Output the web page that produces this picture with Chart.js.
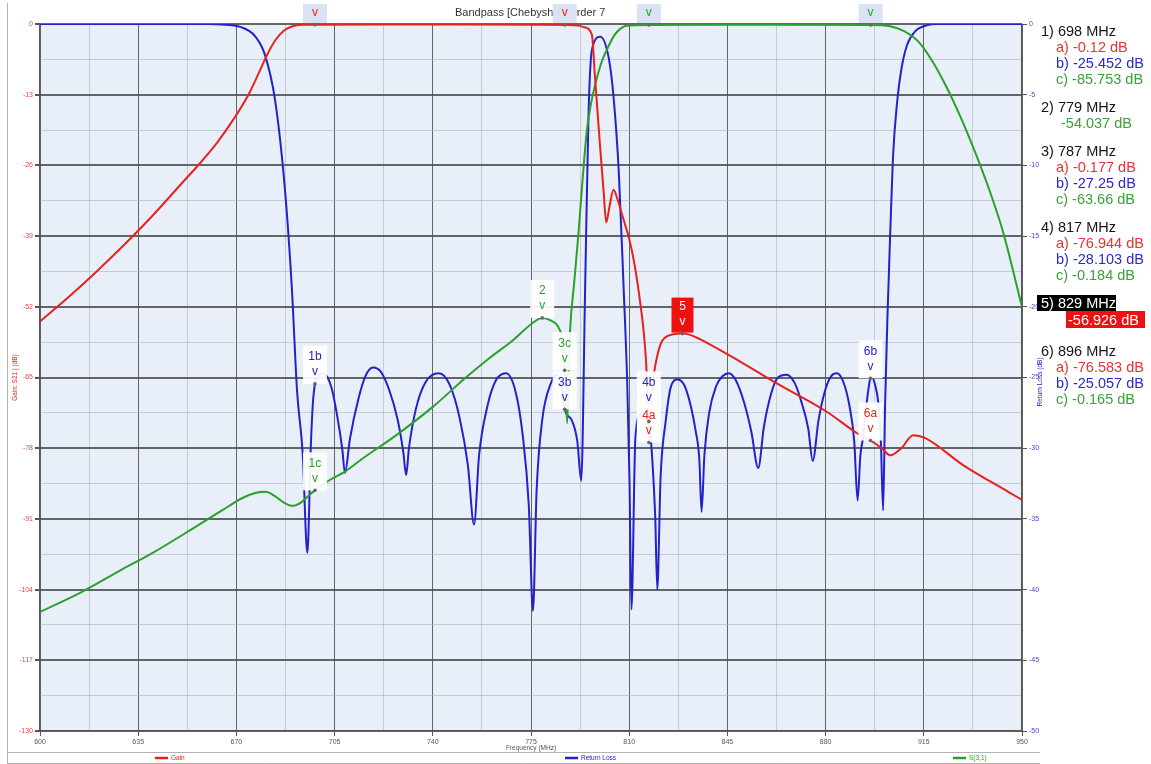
<!DOCTYPE html>
<html>
<head>
<meta charset="utf-8">
<title>Bandpass [Chebyshev Order 7</title>
<script src="https://cdn.jsdelivr.net/npm/chart.js@4.4.0/dist/chart.umd.min.js"></script>
<style>
    body { margin: 0; background: #fff; }
    #wrap { position: relative; width: 1151px; height: 764px; overflow: hidden; }
    #plot { position: absolute; left: 0; top: 0; }
    #readout {
        position: absolute; left: 1041px; top: 23px;
        font-family: 'Liberation Sans', Arial, sans-serif; font-size: 14.5px; line-height: 16px;
        color: #151515; white-space: nowrap;
    }
    .blk { margin-bottom: 12px; }
    .blk.act { margin-bottom: 15px; }
    .val { padding-left: 15px; }
    .val.solo { padding-left: 20px; }
    .hd.act { display: inline-block; background: #000; color: #fff; padding: 0 0 0 4px; margin-left: -4px; }
    .val.solo.act { display: inline-block; background: #f01010; color: #fff !important; padding: 1px 6px 0 2px; margin-left: 25px; }
</style>
</head>
<body>
<div id="wrap">
    <canvas id="plot" width="1151" height="764"></canvas>
    <div id="readout"></div>
</div>
<script>
// Axis tick labels
const freqTicks = [600, 635, 670, 705, 740, 775, 810, 845, 880, 915, 950];
const gainTicks = [0, -13, -26, -39, -52, -65, -78, -91, -104, -117, -130];
const lossTicks = [0, -5, -10, -15, -20, -25, -30, -35, -40, -45, -50];

// Gain (S21) trace, left axis
const gainFreq = [600, 610, 620, 630, 640, 650, 657, 663, 669, 674, 678, 681, 684, 687, 690, 694, 698, 720, 750, 780, 787, 792, 794,
    796.7, 797.8, 799.6, 800.9, 801.8, 803, 804.4, 806, 808, 810, 812, 814, 815.5, 816.3, 817, 818, 818.8, 820, 821.7, 824, 827,
    829, 832, 835, 845.6, 862.6, 880.4, 891.1, 896, 900, 903, 907, 911.2, 915.4, 929, 945.7, 950];
const gainDb = [-54.7, -50.3, -45.6, -40.6, -35.3, -29.6, -25.6, -21.9, -17.5, -13.3, -9.0, -5.6, -2.9, -1.2, -0.4, -0.15, -0.12, -0.08, -0.08, -0.12, -0.177, -0.3, -0.6,
    -2.0, -9.7, -22.4, -30.9, -36.5, -33.5, -30.5, -32.5, -36, -39.5, -44.5, -51.5, -58.5, -65, -76.944, -68, -64.4, -61, -58.3, -57.3, -56.95,
    -56.926, -57.2, -57.9, -60.9, -66.1, -71.3, -75.2, -76.583, -78, -79.3, -78, -75.6, -76.1, -81.1, -86.2, -87.5];

// Return loss trace, right axis
const lossFreq = [600, 660, 666, 671.3, 676.6, 680.2, 683.8, 687.3, 689.8, 691.6, 693.6, 695.3, 696.5, 697.2, 698, 699.5, 701, 702.5, 704, 706, 707.7,
    708.7, 710.5, 713.5, 716, 718.7, 721.5, 724.5, 727.5, 729.5, 730.5, 731.5, 734, 737.5, 742.2, 746, 749.5, 752.5, 754.7,
    756.5, 759.5, 762.5, 766.1, 769.5, 772, 774.2, 775.7, 777, 779, 782.1, 784.3, 786, 787, 789.5, 791.5, 792.9,
    794.3, 795.5, 796.7, 799.7, 802.7, 804.4, 806.3, 808, 809.3, 810.1, 810.8, 812.2, 814, 815.5, 817, 818.3, 819.3, 820,
    821.2, 823, 824.8, 827.2, 830.2, 833.8, 835, 835.8, 836.8, 838.5, 841, 843.3, 845.6, 848, 851, 853.5, 856,
    858, 860.5, 863, 866.1, 869, 871.5, 873.8, 875.4, 877.5, 880, 882, 884, 886.3, 888.5, 890.2, 891.4,
    892.4, 893.4, 894.65, 896, 896.6, 897.6, 898.8, 899.7, 900.5, 901.2, 902, 903, 904, 905.5, 907, 909, 912, 916, 920, 950];
const lossDb = [0, 0, -0.05, -0.2, -0.85, -2.2, -5.4, -11.7, -18.8, -25.9, -30.3, -37.4, -30, -27, -25.452, -24.8, -24.7, -25.0, -25.8, -27.8, -30,
    -31.75, -29.3, -26.5, -24.9, -24.3, -24.6, -25.9, -28, -30.3, -31.9, -30, -27.2, -25.3, -24.7, -25.5, -27.8, -31.2, -35.4,
    -30.5, -27, -25.2, -24.7, -26, -29, -34, -41.5, -33, -28, -25.4, -24.8, -25.7, -27.25, -28, -29.5, -32.3,
    -18.6, -6.4, -1.85, -0.9, -2.4, -5.1, -10.5, -18.6, -25.4, -32.2, -41.4, -29.3, -27.6, -27.5, -28.103, -31, -35, -40.0,
    -32, -28.1, -25.7, -25.15, -25.8, -28.9, -30.8, -34.5, -30.5, -27.5, -25.6, -24.9, -24.7, -25.2, -26.8, -28.8, -31.4,
    -28.5, -26.2, -25.0, -24.8, -25.4, -26.8, -28.6, -30.9, -28, -25.8, -24.9, -24.7, -25.3, -27, -29.5, -33.7,
    -30.5, -29.2, -26.8, -25.057, -25.0, -25.5, -26.8, -29.5, -34.4, -27, -21, -15, -9.5, -5.5, -3.2, -1.5, -0.5, -0.1, 0, 0];

// S(3,1) trace, left axis
const s31Freq = [600, 615, 628.5, 640, 655, 665, 672, 677, 680.5, 684, 687, 690, 693, 696, 698, 703.4, 708.7, 715, 727, 740, 752, 760,
    768.7, 775, 779, 782, 785, 786.3, 787, 787.9, 788.4, 788.9, 790.4, 791.9, 793.4, 794.9, 796.4, 797.9, 800.3, 802.7, 804.8, 806.8,
    809, 817, 860, 896, 903, 908, 913, 918, 923, 928, 933, 938, 943, 950];
const s31Db = [-108.1, -104.4, -100.5, -97.3, -92.6, -89.4, -87.2, -86.2, -86.0, -86.9, -88.0, -88.6, -88.0, -86.6, -85.753, -83.8, -82.3, -79.9, -75.6, -70.4, -64.9, -61.5,
    -58.1, -55.2, -54.037, -54.5, -56, -58.5, -63.66, -73.4, -64, -56.6, -47.5, -38.6, -28.5, -19.6, -14.6, -11.1, -6.8, -4.0, -2.0, -0.9,
    -0.3, -0.184, -0.15, -0.165, -0.4, -1.3, -3.2, -6.8, -11.5, -17, -23.2, -30, -37.8, -52];

// Markers (readout values)
const markerFreq = [698, 779, 787, 817, 829, 896];
const markerGain = [-0.12, null, -0.177, -76.944, -56.926, -76.583];
const markerLoss = [-25.452, null, -27.25, -28.103, null, -25.057];
const markerS31 = [-85.753, -54.037, -63.66, -0.184, null, -0.165];
const activeMarker = 5;
const labelLift = { '4b': 12 };

const RED = '#e8211d';
const BLUE = '#2222cc';
const GREEN = '#2ba02b';

const traces = [
    { key: 'a', vals: markerGain, axis: 'y', color: RED, text: '#e83333' },
    { key: 'b', vals: markerLoss, axis: 'y2', color: BLUE, text: '#2a2acc' },
    { key: 'c', vals: markerS31, axis: 'y', color: GREEN, text: '#3aa23a' }
];

function toPoints(xs, ys) {
    return xs.map((x, i) => ({ x: x, y: ys[i] }));
}

// majors from the tick arrays plus a minor line half way between
function withMinor(arr) {
    const out = [];
    const s = arr.slice().sort((a, b) => a - b);
    for (let i = 0; i < s.length; i++) {
        out.push(s[i]);
        if (i < s.length - 1) out.push((s[i] + s[i + 1]) / 2);
    }
    return out;
}

function isMajorOf(list) {
    return ctx => ctx.tick && list.includes(ctx.tick.value);
}

function scaleOpts(list, labelColor, major) {
    return {
        afterBuildTicks: s => { s.ticks = withMinor(list).map(v => ({ value: v })); },
        ticks: {
            autoSkip: false,
            maxRotation: 0,
            padding: 2,
            color: labelColor,
            font: { family: 'Liberation Sans', size: 7 },
            callback: v => list.includes(v) ? String(v) : ''
        },
        border: { display: true, color: '#555', width: 1.2 },
        grid: {
            tickLength: 5,
            tickColor: ctx => major(ctx) ? '#555' : 'rgba(0,0,0,0)',
            color: ctx => major(ctx) ? 'rgba(75,75,75,0.85)' : 'rgba(165,172,185,0.55)',
            lineWidth: 1
        }
    };
}

// Plugin: backgrounds, title, marker flags, legend
const chrome = {
    id: 'chrome',
    beforeDraw(chart) {
        const { ctx, chartArea: a } = chart;
        ctx.save();
        ctx.fillStyle = '#fff';
        ctx.fillRect(0, 0, chart.width, chart.height);
        ctx.fillStyle = '#e9eff9';
        ctx.fillRect(a.left, a.top, a.right - a.left, a.bottom - a.top);
        ctx.restore();
    },
    afterDraw(chart) {
        const { ctx, chartArea: a, scales } = chart;
        ctx.save();

        // frame
        ctx.strokeStyle = '#b4b4b4';
        ctx.lineWidth = 1;
        ctx.beginPath();
        ctx.moveTo(7.5, 3); ctx.lineTo(7.5, 763.5);
        ctx.moveTo(7, 752.5); ctx.lineTo(1040, 752.5);
        ctx.moveTo(7, 763.5); ctx.lineTo(1040, 763.5);
        ctx.stroke();

        // title
        ctx.fillStyle = '#333';
        ctx.font = '11px "Liberation Sans"';
        ctx.textAlign = 'left';
        ctx.textBaseline = 'middle';
        ctx.fillText('Bandpass [Chebyshev Order 7', 455, 13);

        // axis titles
        ctx.font = '6.5px "Liberation Sans"';
        ctx.textAlign = 'center';
        ctx.fillStyle = '#555';
        ctx.fillText('Frequency (MHz)', (a.left + a.right) / 2, 748);
        ctx.save();
        ctx.translate(15, (a.top + a.bottom) / 2);
        ctx.rotate(-Math.PI / 2);
        ctx.fillStyle = RED;
        ctx.fillText('Gain: S21 | (dB)', 0, 0);
        ctx.restore();
        ctx.save();
        ctx.translate(1040, 382);
        ctx.rotate(-Math.PI / 2);
        ctx.fillStyle = BLUE;
        ctx.fillText('Return Loss (dB)', 0, 0);
        ctx.restore();

        // legend
        const legend = [['Gain', RED, 155], ['Return Loss', BLUE, 565], ['S(3,1)', GREEN, 953]];
        ctx.textAlign = 'left';
        legend.forEach(([name, color, lx]) => {
            ctx.strokeStyle = color;
            ctx.lineWidth = 2.5;
            ctx.beginPath();
            ctx.moveTo(lx, 758); ctx.lineTo(lx + 13, 758);
            ctx.stroke();
            ctx.fillStyle = color;
            ctx.fillText(name, lx + 16, 758);
        });

        // marker flags
        const flags = [];
        markerFreq.forEach((f, i) => {
            const present = traces.filter(t => t.vals[i] !== null);
            present.forEach(t => {
                const name = (i + 1) + (present.length > 1 ? t.key : '');
                const px = scales.x.getPixelForValue(f);
                const py = scales[t.axis].getPixelForValue(t.vals[i]);
                const lift = labelLift[name] || 0;
                flags.push({ name, px, py, lift, color: t.color, top: py - 38 < a.top, active: i + 1 === activeMarker });
            });
        });
        flags.forEach(m => {
            if (m.top) {
                ctx.fillStyle = '#d9e3f3';
                ctx.fillRect(m.px - 12, 4, 24, 19);
            } else {
                ctx.fillStyle = m.active ? '#f01010' : 'rgba(255,255,255,0.92)';
                if (m.active) ctx.fillRect(m.px - 11, m.py - 36, 22, 35);
                else ctx.fillRect(m.px - 12, m.py - 38 - m.lift, 24, 38);
            }
        });
        ctx.textAlign = 'center';
        ctx.textBaseline = 'middle';
        flags.forEach(m => {
            ctx.fillStyle = m.active ? '#fff' : m.color;
            ctx.font = '12px "Liberation Sans"';
            if (m.top) {
                ctx.fillText('v', m.px, 13);
            } else {
                ctx.fillText(m.name, m.px, m.py - 27 - m.lift);
                ctx.fillText('v', m.px, m.py - 12 - m.lift);
            }
        });
        flags.forEach(m => {
            ctx.fillStyle = '#666';
            ctx.beginPath();
            ctx.arc(m.px, m.py, 1.8, 0, Math.PI * 2);
            ctx.fill();
        });
        ctx.restore();
    }
};

function buildReadout() {
    let html = '';
    markerFreq.forEach((f, i) => {
        const present = traces.filter(t => t.vals[i] !== null);
        const active = i + 1 === activeMarker;
        html += `<div class="blk${active ? ' act' : ''}"><div class="hd${active ? ' act' : ''}">${i + 1}) ${f} MHz</div>`;
        present.forEach(t => {
            const solo = present.length === 1;
            const txt = (solo ? '' : t.key + ') ') + t.vals[i] + ' dB';
            html += `<div><span class="val${solo ? ' solo' : ''}${active ? ' act' : ''}" style="color:${t.text}">${txt}</span></div>`;
        });
        html += '</div>';
    });
    document.getElementById('readout').innerHTML = html;
}

const xOpts = scaleOpts(freqTicks, '#555', isMajorOf(freqTicks));
xOpts.type = 'linear';
xOpts.min = 600;
xOpts.max = 950;
xOpts.afterFit = s => { s.height = 33; };

const yOpts = scaleOpts(gainTicks, '#e04848', isMajorOf(gainTicks));
yOpts.type = 'linear';
yOpts.position = 'left';
yOpts.min = -130;
yOpts.max = 0;
yOpts.afterFit = s => { s.width = 40; };
yOpts.grid.lineWidth = ctx => isMajorOf(gainTicks)(ctx) ? 2 : 1;

const y2Opts = scaleOpts(lossTicks, '#4646d2', isMajorOf(lossTicks));
y2Opts.type = 'linear';
y2Opts.position = 'right';
y2Opts.min = -50;
y2Opts.max = 0;
y2Opts.afterFit = s => { s.width = 129; };
y2Opts.grid.drawOnChartArea = false;

const lineStyle = { pointRadius: 0, borderWidth: 2, cubicInterpolationMode: 'monotone', fill: false };

new Chart(document.getElementById('plot').getContext('2d'), {
    type: 'line',
    data: {
        datasets: [
            Object.assign({ label: 'Gain', data: toPoints(gainFreq, gainDb), borderColor: RED, yAxisID: 'y', order: 0 }, lineStyle),
            Object.assign({ label: 'Return Loss', data: toPoints(lossFreq, lossDb), borderColor: BLUE, yAxisID: 'y2', order: 2 }, lineStyle),
            Object.assign({ label: 'S(3,1)', data: toPoints(s31Freq, s31Db), borderColor: GREEN, yAxisID: 'y', order: 1 }, lineStyle)
        ]
    },
    options: {
        responsive: false,
        animation: false,
        devicePixelRatio: 1,
        layout: { padding: { top: 24, left: 0, right: 0, bottom: 0 } },
        plugins: { legend: { display: false }, tooltip: { enabled: false } },
        scales: { x: xOpts, y: yOpts, y2: y2Opts }
    },
    plugins: [chrome]
});

buildReadout();
</script>
</body>
</html>
